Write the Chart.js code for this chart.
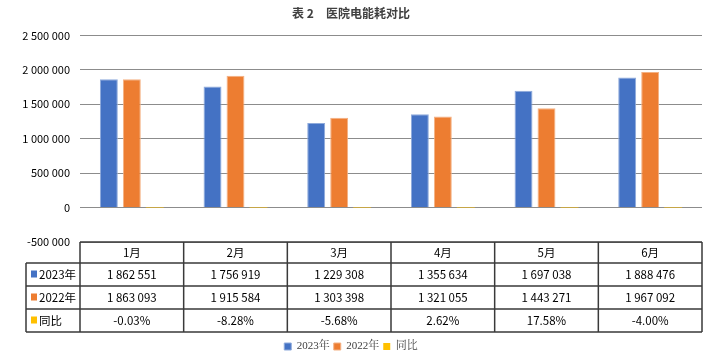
<!DOCTYPE html>
<html>
<head>
<meta charset="utf-8">
<script src="https://cdn.jsdelivr.net/npm/chart.js@4.4.0/dist/chart.umd.min.js"></script>
<style>
  html, body { margin: 0; padding: 0; background: #fff; }
  #wrap { width: 719px; height: 359px; }
</style>
</head>
<body>
<div id="wrap"><canvas id="chart" width="719" height="359"></canvas></div>
<script>
// 表 2 医院电能耗对比
const months = ['1月', '2月', '3月', '4月', '5月', '6月'];
const use2023 = [1862551, 1756919, 1229308, 1355634, 1697038, 1888476];
const use2022 = [1863093, 1915584, 1303398, 1321055, 1443271, 1967092];
const yoyPct = [-0.03, -8.28, -5.68, 2.62, 17.58, -4.00];
const yTicks = [-500000, 0, 500000, 1000000, 1500000, 2000000, 2500000];

const seriesNames = ['2023年', '2022年', '同比'];
const seriesColors = ['#4472C4', '#ED7D31', '#FFC000'];

const CJK = '"Noto Sans CJK SC", "Noto Sans", sans-serif';

// 1862551 -> "1 862 551"
function fmt(n) {
  const s = String(Math.abs(n)).replace(/\B(?=(\d{3})+(?!\d))/g, ' ');
  return (n < 0 ? '-' : '') + s;
}

// data table under the plot, columns follow the x scale
const dataTablePlugin = {
  id: 'dataTable',
  afterDraw(chart) {
    const { ctx, chartArea } = chart;
    const xs = chart.scales.x;
    const left = chartArea.left, right = chartArea.right;
    const colW = (right - left) / months.length;
    const top = chartArea.bottom;
    const rowH = [21, 23, 23, 23];
    const labelLeft = 26;
    const rowY = [top];
    rowH.forEach((h, i) => rowY.push(rowY[i] + h));
    const bottom = rowY[rowY.length - 1];

    ctx.save();
    ctx.strokeStyle = '#3a3a3a';
    ctx.lineWidth = 1.5;
    ctx.beginPath();
    // horizontal lines
    ctx.moveTo(left, rowY[0]); ctx.lineTo(right, rowY[0]);
    for (let r = 1; r < rowY.length; r++) {
      ctx.moveTo(labelLeft, rowY[r]); ctx.lineTo(right, rowY[r]);
    }
    // vertical lines
    ctx.moveTo(labelLeft, rowY[1]); ctx.lineTo(labelLeft, bottom);
    for (let c = 0; c <= months.length; c++) {
      const x = left + c * colW;
      ctx.moveTo(x, rowY[0]); ctx.lineTo(x, bottom);
    }
    ctx.stroke();

    ctx.fillStyle = '#000';
    ctx.font = '11.5px ' + CJK;
    ctx.textAlign = 'center';
    ctx.textBaseline = 'middle';
    const rows = [
      months,
      use2023.map(fmt),
      use2022.map(fmt),
      yoyPct.map(v => v.toFixed(2) + '%')
    ];
    rows.forEach((cells, r) => {
      const cy = rowY[r] + rowH[r] / 2 + 0.5;
      cells.forEach((txt, i) => {
        ctx.fillText(txt, xs.getPixelForValue(i), cy);
      });
    });

    // row labels with colour keys
    ctx.textAlign = 'left';
    seriesNames.forEach((name, i) => {
      const cy = rowY[i + 1] + rowH[i + 1] / 2;
      ctx.fillStyle = seriesColors[i];
      ctx.fillRect(labelLeft + 5, cy - 4, 6, 7);
      ctx.fillStyle = '#000';
      ctx.fillText(name, labelLeft + 13, cy + 0.5);
    });
    ctx.restore();
  }
};

new Chart(document.getElementById('chart'), {
  type: 'bar',
  data: {
    labels: months,
    datasets: [
      { label: seriesNames[0], data: use2023, backgroundColor: seriesColors[0], borderColor: '#8eaadb', borderWidth: 1 },
      { label: seriesNames[1], data: use2022, backgroundColor: seriesColors[1], borderColor: '#f4b183', borderWidth: 1 },
      { label: seriesNames[2], data: yoyPct.map(v => v / 100), backgroundColor: seriesColors[2], borderWidth: 0 }
    ]
  },
  options: {
    responsive: false,
    animation: false,
    layout: { padding: { left: 0, right: 17, top: 0, bottom: -3 } },
    datasets: { bar: { categoryPercentage: 0.665, barPercentage: 0.78 } },
    plugins: {
      title: {
        display: true,
        text: '表 2　医院电能耗对比',
        color: '#404040',
        font: { family: CJK, size: 12, weight: 'bold' },
        padding: { top: 6, bottom: 15 }
      },
      legend: {
        position: 'bottom',
        labels: {
          boxWidth: 7,
          boxHeight: 7,
          padding: 4,
          color: '#404040',
          font: { family: '"Liberation Serif", "Noto Serif CJK SC", "Noto Sans CJK SC", serif', size: 11 }
        }
      },
      tooltip: { enabled: false }
    },
    scales: {
      x: {
        grid: { display: false },
        border: { display: false },
        ticks: { display: false },
        afterFit(scale) { scale.height = 95; }
      },
      y: {
        min: yTicks[0],
        max: yTicks[yTicks.length - 1],
        afterBuildTicks(scale) { scale.ticks = yTicks.map(v => ({ value: v })); },
        afterFit(scale) { scale.width = 80; },
        grid: { color: '#8c8c8c', lineWidth: 1, drawTicks: false },
        border: { display: false },
        ticks: {
          padding: 10,
          color: '#000',
          font: { family: CJK, size: 11 },
          callback: v => fmt(v)
        }
      }
    }
  },
  plugins: [dataTablePlugin]
});
</script>
</body>
</html>
